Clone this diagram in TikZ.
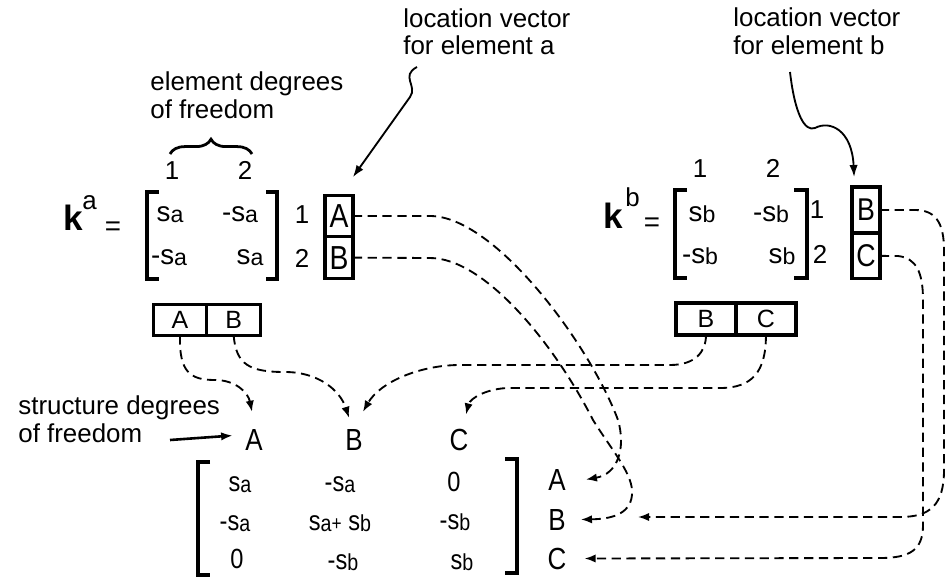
\documentclass[tikz,border=0pt]{standalone}
\usepackage{fontspec}
\setmainfont{Liberation Sans}
\usetikzlibrary{positioning}
\usetikzlibrary{calc}
\usetikzlibrary{arrows.meta}
\usetikzlibrary{decorations.pathreplacing}

\newcommand{\sv}[1]{{\fontsize{15}{16}\selectfont s}{\fontsize{12.5}{14}\selectfont\raisebox{-0.15ex}{#1}}}
\newcommand{\nar}[1]{\scalebox{0.85}[1]{#1}}

\begin{document}
\begin{tikzpicture}[
    x=0.019cm, y=-0.019cm,   % pixel grid, y runs downwards
    node distance=0pt,       % cells of a vector touch
    ]
% -------------------------------------------------
\tikzset{
  txt/.style={align=left, inner sep=0pt, anchor=base west, font=\fontsize{14}{14.8}\selectfont},
  num/.style={inner sep=0pt, anchor=base, font=\fontsize{14}{15}\selectfont},
  ent/.style={inner sep=0pt, anchor=base, font=\fontsize{15}{16}\selectfont},
  gl/.style={inner sep=1pt, anchor=base, font=\fontsize{16.5}{18}\selectfont},
  kk/.style={inner sep=0pt, anchor=base west, font=\fontsize{19}{21}\selectfont\bfseries},
  cell/.style={draw, line width=1.8pt, outer sep=0pt, inner sep=0pt, align=center},
  lvec/.style={cell, minimum width=15pt},
  dof/.style={cell, font=\fontsize{13.5}{15}\selectfont},
  brk/.style={draw, line width=2.2pt},
  line/.style={draw, line width=1pt, dash pattern=on 5pt off 3pt, -{Latex[length=6pt,width=4.5pt]}},
  pnt/.style={draw, line width=1pt, -{Latex[length=6.5pt,width=4.5pt]}}
}
\useasboundingbox (0,0) rectangle (949,577);
% -------------------------------------------------
% Annotations (anchored at the last line)
\node [txt] (loca) at (403,55) {location vector\\for element a};
\node [txt] (locb) at (733,54) {location vector\\for element b};
\node [txt] (edof) at (150,118) {element degrees\\of freedom};
\node [txt] (sdof) at (18,442) {structure degrees\\of freedom};

% -------------------------------------------------
% Element a
\node [kk] (ka) at (63,230) {k};
\node [ent, anchor=base west, font=\fontsize{14}{15}\selectfont] (kas) at (82,209) {a};
\node [ent, font=\fontsize{15}{16}\selectfont] (eqa) at (113,235) {=};
\node [num] (ca1) at (172,179) {1};
\node [num] (ca2) at (245,179) {2};
\draw [decorate, decoration={brace, amplitude=8pt}, line width=1.5pt] (170,154) -- (252,154);
\node [ent] (a11) at (170,221) {\sv{a}};
\node [ent] (a12) at (240,221) {-\sv{a}};
\node [ent] (a21) at (169,264) {-\sv{a}};
\node [ent] (a22) at (250,264) {\sv{a}};
\draw [brk] (159,192) -- (147,192) -- (147,279) -- (159,279);
\draw [brk] (266,192) -- (277,192) -- (277,279) -- (266,279);
\node [num] (ra1) at (302,223) {1};
\node [num] (ra2) at (302,267) {2};
\node [lvec, minimum height=22.5pt, font=\fontsize{18}{20}\selectfont] (la) at (339,216) {\nar{A}};
\node [lvec, minimum height=22.5pt, font=\fontsize{18}{20}\selectfont, below=of la] (lb) {\nar{B}};
\node [dof, minimum width=29pt, minimum height=16.5pt] (da) at (180,320) {A};
\node [dof, minimum width=29pt, minimum height=16.5pt, right=of da] (db) {B};

% -------------------------------------------------
% Element b
\node [kk] (kb) at (603,228) {k};
\node [ent, anchor=base west, font=\fontsize{14}{15}\selectfont] (kbs) at (625,206) {b};
\node [ent, font=\fontsize{15}{16}\selectfont] (eqb) at (652,231) {=};
\node [num] (cb1) at (700,177) {1};
\node [num] (cb2) at (773,177) {2};
\node [ent] (b11) at (702,221) {\sv{b}};
\node [ent] (b12) at (771,221) {-\sv{b}};
\node [ent] (b21) at (700,263) {-\sv{b}};
\node [ent] (b22) at (782,263) {\sv{b}};
\draw [brk] (687,190) -- (675,190) -- (675,278) -- (687,278);
\draw [brk] (794,190) -- (807,190) -- (807,278) -- (794,278);
\node [num] (rb1) at (817,218) {1};
\node [num] (rb2) at (820,263) {2};
\node [lvec, minimum height=24.8pt, font=\fontsize{17}{19}\selectfont] (lvb) at (866,210) {\nar{B}};
\node [lvec, minimum height=24.8pt, font=\fontsize{17}{19}\selectfont, below=of lvb] (lvc) {\nar{C}};
\node [dof, minimum width=32.4pt, minimum height=17.3pt] (dbb) at (706,319) {B};
\node [dof, minimum width=32.4pt, minimum height=17.3pt, right=of dbb] (dbc) {C};

% -------------------------------------------------
% Structure matrix
\node [gl] (ga) at (254,450) {\nar{A}};
\node [gl] (gb) at (354,450) {\nar{B}};
\node [gl] (gc) at (459,450) {\nar{C}};
\node [ent] (g11) at (240,491) {\nar{\sv{a}}};
\node [ent] (g12) at (340,491) {\nar{-\sv{a}}};
\node [ent] (g13) at (454,491) {\nar{0}};
\node [ent] (g21) at (235,530) {\nar{-\sv{a}}};
\node [ent] (g22) at (340,530) {\nar{\sv{a}{\fontsize{11}{12}\selectfont+} \sv{b}}};
\node [ent] (g23) at (455,529) {\nar{-\sv{b}}};
\node [ent] (g31) at (237,568) {\nar{0}};
\node [ent] (g32) at (343,569) {\nar{-\sv{b}}};
\node [ent] (g33) at (462,569) {\nar{\sv{b}}};
\draw [brk] (210,462) -- (198,462) -- (198,575) -- (210,575);
\draw [brk] (505,459) -- (517,459) -- (517,573) -- (505,573);
\node [gl] (gra) at (557,490) {\nar{A}};
\node [gl] (grb) at (557,530) {\nar{B}};
\node [gl] (grc) at (557,569) {\nar{C}};

% -------------------------------------------------
% Pointers
\coordinate (sqa) at (417,67);
\coordinate (sqb) at (790,72);
\coordinate (sar) at (170,440);
\coordinate (rbr) at (638,517);

\path [pnt] (sqa) .. controls (400,76) and (418,86) .. (410,97) -- ($(la.north east)+(0,-18)$);
\path [pnt] (sqb) .. controls (795,115) and (805,132) .. (815,128) .. controls (830,120) and (852,130) .. ($(lvb.north west)+(2,-10)$);
\path [pnt, line width=1.4pt] (sar) -- ($(ga.west)+(-10,-4)$);

% location vectors to structure rows
\path [line] (la.east) -- (430,216) .. controls (495,216) and (590,345) .. (618,420) .. controls (626,448) and (618,474) .. ($(gra.east)+(18,0)$);
\path [line] (lb.east) -- (430,258) .. controls (485,258) and (555,345) .. (593,420) .. controls (613,452) and (634,475) .. (632,495) .. controls (630,515) and (610,519) .. ($(grb.east)+(13,0)$);
\path [line] (lvb.east) -- (915,210) .. controls (935,210) and (944,222) .. (944,250) -- (944,470) .. controls (944,505) and (930,517) .. (900,517) -- (rbr);
\path [line] (lvc.east) -- (898,256) .. controls (916,258) and (923,272) .. (923,300) -- (923,525) .. controls (923,550) and (910,558) .. (880,558) -- ($(grc.east)+(16,0)$);

% element dofs to structure columns
\path [line] (da.south) .. controls (179,372) and (190,380) .. (215,380) .. controls (235,380) and (248,392) .. ($(ga.north)+(-2,-15)$);
\path [line] (db.south) .. controls (236,365) and (250,372) .. (285,372) .. controls (318,372) and (340,390) .. ($(gb.north)+(-5,-9)$);
\path [line] (dbb.south) .. controls (706,352) and (695,365) .. (670,365) -- (460,365) .. controls (420,365) and (380,382) .. ($(gb.north)+(9,-15)$);
\path [line] (dbc.south) .. controls (766,372) and (752,388) .. (720,388) -- (510,388) .. controls (488,388) and (470,398) .. ($(gc.north)+(7,-12)$);

\end{tikzpicture}
\end{document}
